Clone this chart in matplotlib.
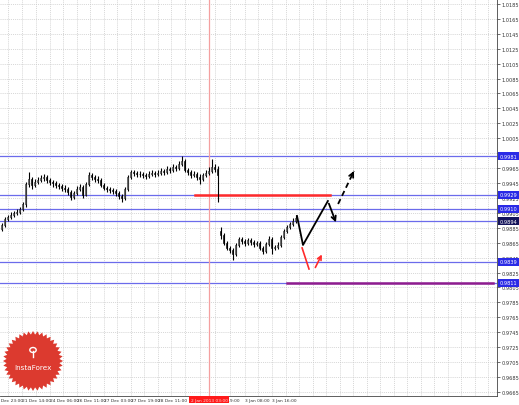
import matplotlib
matplotlib.use('Agg')
import matplotlib.pyplot as plt
import numpy as np
from matplotlib.patches import Polygon, Circle
from matplotlib.transforms import blended_transform_factory

# candles before the holiday gap (one per bar)
pre_open0 = 0.98834
pre_close = [0.98888, 0.98968, 0.98995, 0.99022, 0.99049, 0.99062, 0.99102, 0.99169, 0.99437, 0.99504,
             0.99424, 0.99464, 0.99491, 0.99518, 0.99531, 0.99491, 0.99464, 0.99451, 0.99424, 0.99410,
             0.99384, 0.99370, 0.99330, 0.99263, 0.99317, 0.99370, 0.99397, 0.99290, 0.99437, 0.99558,
             0.99531, 0.99504, 0.99491, 0.99424, 0.99384, 0.99370, 0.99357, 0.99343, 0.99317, 0.99276,
             0.99250, 0.99370, 0.99531, 0.99598, 0.99585, 0.99571, 0.99571, 0.99558, 0.99544, 0.99571,
             0.99585, 0.99571, 0.99585, 0.99611, 0.99598, 0.99638, 0.99625, 0.99665, 0.99652, 0.99705,
             0.99745, 0.99625, 0.99598, 0.99558, 0.99571, 0.99531, 0.99504, 0.99558, 0.99585, 0.99611,
             0.99665, 0.99638, 0.99558]
pre_high = [0.98915, 0.98995, 0.99022, 0.99062, 0.99075, 0.99102, 0.99129, 0.99196, 0.99464, 0.99598,
            0.99531, 0.99504, 0.99531, 0.99558, 0.99571, 0.99558, 0.99518, 0.99491, 0.99477, 0.99451,
            0.99437, 0.99424, 0.99397, 0.99357, 0.99343, 0.99410, 0.99437, 0.99424, 0.99464, 0.99598,
            0.99585, 0.99558, 0.99544, 0.99518, 0.99451, 0.99410, 0.99397, 0.99384, 0.99370, 0.99343,
            0.99303, 0.99397, 0.99558, 0.99625, 0.99625, 0.99611, 0.99611, 0.99598, 0.99585, 0.99611,
            0.99625, 0.99611, 0.99625, 0.99652, 0.99638, 0.99678, 0.99665, 0.99705, 0.99692, 0.99745,
            0.99812, 0.99772, 0.99652, 0.99625, 0.99611, 0.99598, 0.99571, 0.99585, 0.99625, 0.99665,
            0.99772, 0.99705, 0.99678]
pre_low = [0.98807, 0.98861, 0.98941, 0.98968, 0.98995, 0.99022, 0.99035, 0.99075, 0.99129, 0.99397,
           0.99370, 0.99397, 0.99437, 0.99464, 0.99477, 0.99451, 0.99424, 0.99397, 0.99384, 0.99370,
           0.99343, 0.99330, 0.99290, 0.99223, 0.99236, 0.99290, 0.99343, 0.99250, 0.99276, 0.99410,
           0.99491, 0.99464, 0.99451, 0.99397, 0.99357, 0.99330, 0.99317, 0.99303, 0.99276, 0.99236,
           0.99196, 0.99223, 0.99343, 0.99504, 0.99544, 0.99531, 0.99531, 0.99518, 0.99504, 0.99518,
           0.99544, 0.99531, 0.99544, 0.99558, 0.99558, 0.99571, 0.99585, 0.99598, 0.99611, 0.99625,
           0.99678, 0.99598, 0.99558, 0.99518, 0.99531, 0.99491, 0.99437, 0.99477, 0.99531, 0.99558,
           0.99585, 0.99598, 0.99196]

# candles after the gap
post_open0 = 0.98807
post_close = [0.98754, 0.98647, 0.98580, 0.98553, 0.98499, 0.98620, 0.98700, 0.98673, 0.98647, 0.98687,
              0.98660, 0.98633, 0.98647, 0.98580, 0.98539, 0.98633, 0.98700, 0.98580, 0.98593, 0.98620,
              0.98727, 0.98807, 0.98861, 0.98901, 0.98941, 0.98982]
post_high = [0.98861, 0.98781, 0.98673, 0.98606, 0.98580, 0.98647, 0.98727, 0.98727, 0.98700, 0.98713,
             0.98713, 0.98687, 0.98673, 0.98673, 0.98606, 0.98660, 0.98740, 0.98727, 0.98620, 0.98660,
             0.98754, 0.98834, 0.98888, 0.98928, 0.98982, 0.99022]
post_low = [0.98700, 0.98620, 0.98553, 0.98513, 0.98419, 0.98472, 0.98593, 0.98633, 0.98606, 0.98620,
            0.98620, 0.98593, 0.98606, 0.98553, 0.98499, 0.98513, 0.98606, 0.98499, 0.98553, 0.98566,
            0.98593, 0.98700, 0.98781, 0.98834, 0.98874, 0.98915]

# horizontal levels and their price labels
level_prices = [0.99812, 0.99290, 0.99102, 0.98941, 0.98392, 0.98111]
level_labels = ["0.9981", "0.9929", "0.9910", "0.9894", "0.9839", "0.9811"]
level_boxes = ['#2a2ae6', '#2a2ae6', '#2a2ae6', '#14145a', '#2a2ae6', '#2a2ae6']

red_level = 0.99290
red_level_bars = [65, 110]
purple_level = 0.98111
purple_level_bars = [95.7, 164.3]

# forecast drawings (bar, price)
zigzag_bars = [99.0, 101.0, 109.3, 112.3]
zigzag_prices = [0.99009, 0.98620, 0.99209, 0.98888]
dash_bars = [112.7, 118.0]
dash_prices = [0.99169, 0.99611]
red_down_bars = [100.7, 103.0]
red_down_prices = [0.98580, 0.98298]
red_up_bars = [104.7, 107.7]
red_up_prices = [0.98285, 0.98526]

vline_bar = 69.67

# time axis
time_labels = ["20 Dec 23:00", "21 Dec 14:00", "24 Dec 06:00", "26 Dec 11:00", "27 Dec 03:00",
               "27 Dec 19:00", "28 Dec 11:00", "2 Jan 19:00", "3 Jan 08:00", "3 Jan 16:00"]
time_bars = [-2.0, 7.33, 16.67, 25.67, 34.67, 43.67, 52.67, 71.67, 81.67, 90.67]

price_ticks = np.round(np.arange(0.9665, 1.0186, 0.002), 4)

# build candles
closes = np.array(pre_close + post_close)
highs = np.array(pre_high + post_high)
lows = np.array(pre_low + post_low)
opens = np.array([pre_open0] + pre_close[:-1] + [post_open0] + post_close[:-1])
xs = np.arange(len(closes)) + 0.5

fig = plt.figure(figsize=(5.19, 4.06), dpi=100)
ax = fig.add_axes([0, 9 / 406, 497 / 519, 397 / 406])
ax.set_xlim(0, 497 / 3)
ax.set_ylim(0.96596, 1.01916)

# grid
grid_px = [8, 22, 36, 50, 63, 77, 90, 104, 117, 131, 144, 158, 171, 185, 200, 215,
           230, 245, 258, 272] + list(np.arange(285.5, 497, 13.5))
ax.set_xticks([g / 3 for g in grid_px])
ax.set_xticklabels([])
ax.tick_params(axis='x', length=0)
ax.set_yticks(price_ticks)
ax.set_yticklabels([f'{t:.4f}' for t in price_ticks])
ax.yaxis.tick_right()
ax.tick_params(axis='y', labelsize=3.6, length=2, width=0.5, pad=1.5, colors='#333333')
ax.grid(True, color='#c8c8c8', lw=0.5, ls=(0, (1.5, 1.5)))
ax.set_axisbelow(True)
for s in ['top', 'left']:
    ax.spines[s].set_visible(False)
for s in ['right', 'bottom']:
    ax.spines[s].set_linewidth(0.6)
    ax.spines[s].set_color('#444444')

# levels
for p in level_prices:
    ax.axhline(p, color='#6b6beb', lw=0.9, zorder=2)
ax.plot(red_level_bars, [red_level, red_level], color='#ff2a2a', lw=1.8, zorder=3)
ax.plot(purple_level_bars, [purple_level, purple_level], color='#8e1c8e', lw=1.8, zorder=3)
ax.axvline(vline_bar, color='#f4a0a0', lw=0.9, zorder=2)

# candles
ax.vlines(xs, lows, highs, color='black', lw=0.8, zorder=4)
up = closes >= opens
ax.bar(xs, closes - opens, bottom=opens, width=0.6,
       color=np.where(up, 'white', 'black'), edgecolor='black', lw=0.4, zorder=5)

# forecast arrows
ax.plot(zigzag_bars[:-1], zigzag_prices[:-1], color='black', lw=1.3, zorder=6)
ax.annotate('', xy=(zigzag_bars[-1], zigzag_prices[-1]), xytext=(zigzag_bars[-2], zigzag_prices[-2]),
            arrowprops=dict(arrowstyle='->', color='black', lw=1.3, mutation_scale=8), zorder=6)
ax.plot(dash_bars, dash_prices, color='black', lw=1.3, ls=(0, (3, 2)), zorder=6)
ax.annotate('', xy=(dash_bars[1], dash_prices[1]),
            xytext=(dash_bars[1] - 0.8, dash_prices[1] - 0.00066),
            arrowprops=dict(arrowstyle='->', color='black', lw=1.3, mutation_scale=8), zorder=6)
ax.plot(red_down_bars, red_down_prices, color='#ff2a2a', lw=1.2, zorder=6)
ax.annotate('', xy=(red_up_bars[1], red_up_prices[1]), xytext=(red_up_bars[0], red_up_prices[0]),
            arrowprops=dict(arrowstyle='->', color='#ff2a2a', lw=1.2, mutation_scale=7), zorder=6)

# price boxes on the right axis
yb = blended_transform_factory(ax.transAxes, ax.transData)
for p, lab, c in zip(level_prices, level_labels, level_boxes):
    ax.text(1.006, p, lab, transform=yb, ha='left', va='center', fontsize=3.6, color='white',
            bbox=dict(boxstyle='square,pad=0.3', fc=c, ec='none'), clip_on=False, zorder=10)

# time labels
xb = blended_transform_factory(ax.transData, ax.transAxes)
for b, lab in zip(time_bars, time_labels):
    ax.text(b, -0.004, lab, transform=xb, ha='left', va='top', fontsize=3.2, color='#333333',
            clip_on=False, zorder=3)
ax.text(vline_bar, -0.004, "2 Jan 2013 03:00", transform=xb, ha='center', va='top', fontsize=3.2,
        color='#ffd8d8', bbox=dict(boxstyle='square,pad=0.25', fc='#ff1a1a', ec='none'),
        clip_on=False, zorder=11)

# InstaForex badge (figure pixels)
cx, cy, n = 33, 406 - 362, 40
ang = np.linspace(0, 2 * np.pi, 2 * n, endpoint=False)
rad = np.where(np.arange(2 * n) % 2 == 0, 30, 26.5)
pts = np.column_stack([(cx + rad * np.cos(ang)) / 519, (cy + rad * np.sin(ang)) / 406])
fig.add_artist(Polygon(pts, closed=True, transform=fig.transFigure, fc='#dc3a2f', ec='none', zorder=20))
fig.add_artist(Circle((cx / 519, (cy + 11) / 406), 3.2 / 519, transform=fig.transFigure,
                      fc='none', ec='white', lw=1.0, zorder=21))
fig.add_artist(plt.Line2D([cx / 519, cx / 519], [(cy + 4) / 406, (cy + 10) / 406],
                          transform=fig.transFigure, color='white', lw=1.0, zorder=21))
fig.text(cx / 519, (cy - 6) / 406, "InstaForex", color='white', fontsize=5.2, ha='center',
         va='center', zorder=22)

fig.savefig('out.png', dpi=100)
